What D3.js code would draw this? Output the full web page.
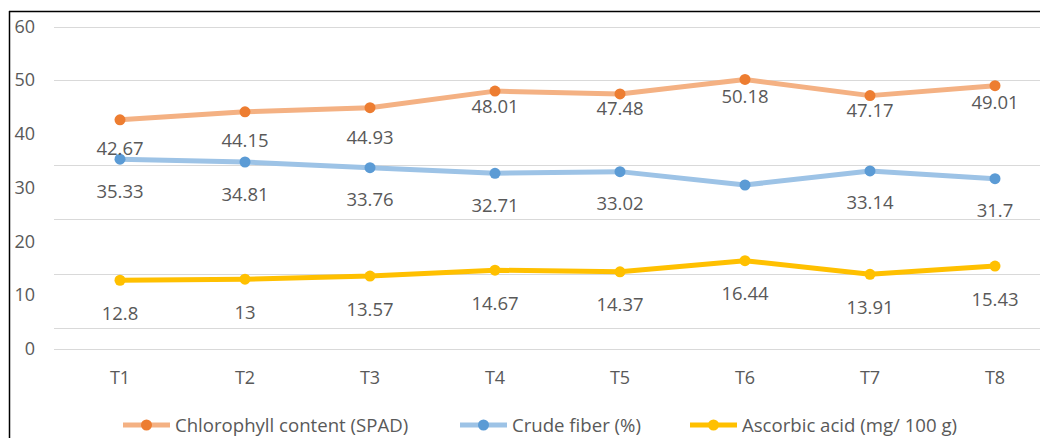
<!DOCTYPE html>
<html>
<head>
<meta charset="utf-8">
<script src="https://cdn.jsdelivr.net/npm/d3@7"></script>
<style>
  html, body { margin: 0; padding: 0; background: #fff; }
  svg { display: block; }
  text { font-family: "Open Sans", sans-serif; fill: #595959; }
</style>
</head>
<body>
<svg id="chart" width="1040" height="438"></svg>
<script>
// ---- data ----
const categories = ["T1", "T2", "T3", "T4", "T5", "T6", "T7", "T8"];
const chlorophyll = [42.67, 44.15, 44.93, 48.01, 47.48, 50.18, 47.17, 49.01];
const crudeFiber = [35.33, 34.81, 33.76, 32.71, 33.02, 30.53, 33.14, 31.7];
const ascorbic = [12.8, 13, 13.57, 14.67, 14.37, 16.44, 13.91, 15.43];
const yTickValues = [0, 10, 20, 30, 40, 50, 60];
const gridValues = [60, 50, 34.3, 24.2, 14, 3.9, 0];
const seriesNames = ["Chlorophyll content (SPAD)", "Crude fiber (%)", "Ascorbic acid (mg/ 100 g)"];
// which labels are shown (T6 crude fiber label is absent in the original)
const fiberLabelShown = [true, true, true, true, true, false, true, true];

// ---- layout / style ----
const chlLabelDy = [28, 28, 29, 14, 14, 16, 14, 16];
const series = [
  { name: seriesNames[0], values: chlorophyll, line: "#F4B183", marker: "#ED7D31", dy: chlLabelDy, shown: categories.map(() => true) },
  { name: seriesNames[1], values: crudeFiber, line: "#9DC3E6", marker: "#5B9BD5", dy: categories.map(() => 31), shown: fiberLabelShown },
  { name: seriesNames[2], values: ascorbic, line: "#FFC000", marker: "#FFC000", dy: categories.map(() => 32), shown: categories.map(() => true) }
];

const svg = d3.select("#chart");
const x = d3.scalePoint().domain(categories).range([120, 995]);
const y = d3.scaleLinear().domain([0, 60]).range([349, 26.7]);

// frame (left and top borders visible)
svg.append("line").attr("x1", 9.5).attr("x2", 9.5).attr("y1", 11).attr("y2", 438)
  .attr("stroke", "#000").attr("stroke-width", 1.5);
svg.append("line").attr("x1", 9).attr("x2", 1040).attr("y1", 11.5).attr("y2", 11.5)
  .attr("stroke", "#000").attr("stroke-width", 1.5);

// gridlines
svg.append("g").selectAll("line").data(gridValues).join("line")
  .attr("x1", 54).attr("x2", 1040)
  .attr("y1", d => Math.round(y(d)) + 0.5).attr("y2", d => Math.round(y(d)) + 0.5)
  .attr("stroke", "#D9D9D9").attr("stroke-width", 1.2);

// y tick labels
svg.append("g").selectAll("text").data(yTickValues).join("text")
  .attr("x", 35).attr("y", d => y(d) - 1)
  .attr("text-anchor", "end").attr("dominant-baseline", "central")
  .style("font-size", "18px")
  .text(d => d);

// x axis labels
svg.append("g").selectAll("text").data(categories).join("text")
  .attr("x", d => x(d)).attr("y", 377)
  .attr("text-anchor", "middle").attr("dominant-baseline", "central")
  .style("font-size", "18px")
  .text(d => d);

// lines + markers
const line = d3.line().x((d, i) => x(categories[i])).y(d => y(d));
series.forEach(s => {
  svg.append("path").datum(s.values)
    .attr("d", line).attr("fill", "none")
    .attr("stroke", s.line).attr("stroke-width", 5)
    .attr("stroke-linejoin", "round").attr("stroke-linecap", "round");
  svg.append("g").selectAll("circle").data(s.values).join("circle")
    .attr("cx", (d, i) => x(categories[i])).attr("cy", d => y(d))
    .attr("r", 5.5).attr("fill", s.marker);
});

// data labels
series.forEach(s => {
  const pts = s.values.map((v, i) => ({ v, i, cat: categories[i], dy: s.dy[i] }))
    .filter(p => s.shown[p.i]);
  svg.append("g").selectAll("text").data(pts).join("text")
    .attr("x", p => x(p.cat))
    .attr("y", p => y(p.v) + p.dy)
    .attr("text-anchor", "middle").attr("dominant-baseline", "central")
    .style("font-size", "18.5px")
    .text(p => p.v);
});

// legend
const legendX = [123, 460, 690];
const legendY = 425;
series.forEach((s, i) => {
  const g = svg.append("g").attr("transform", `translate(${legendX[i]},${legendY})`);
  g.append("line").attr("x1", 0).attr("x2", 47).attr("y1", 0).attr("y2", 0)
    .attr("stroke", s.line).attr("stroke-width", 5);
  g.append("circle").attr("cx", 23.5).attr("cy", 0).attr("r", 5.5).attr("fill", s.marker);
  g.append("text").attr("x", 52).attr("y", -1)
    .attr("dominant-baseline", "central").style("font-size", "18.6px")
    .text(s.name);
});
</script>
</body>
</html>
